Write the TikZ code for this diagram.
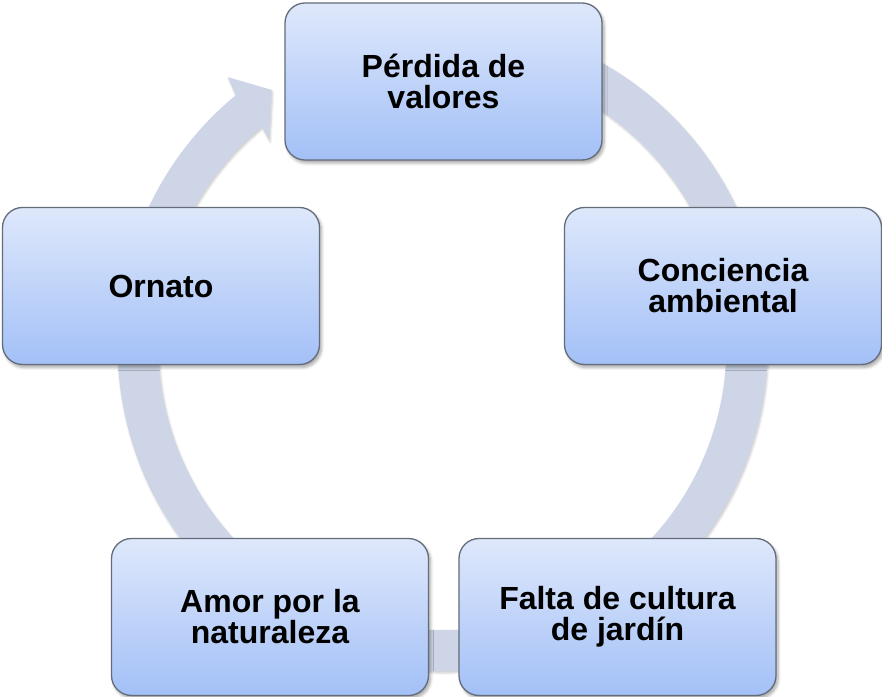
\documentclass[tikz,border=0pt]{standalone}
\usepackage{fontspec}
\setmainfont{Liberation Sans}
\usetikzlibrary{shadows.blur}
\definecolor{ringc}{RGB}{205,213,230}
\definecolor{boxtop}{RGB}{222,232,251}
\definecolor{boxbot}{RGB}{163,192,247}
\definecolor{boxline}{RGB}{100,108,122}
\tikzset{
  cyclebox/.style={draw=boxline, line width=1.3pt, rounded corners=20pt,
    top color=boxtop, bottom color=boxbot,
    minimum width=317pt, minimum height=157pt, align=center,
    font=\fontsize{32}{31}\selectfont\bfseries, text=black,
    blur shadow={shadow xshift=2pt, shadow yshift=-3pt, shadow opacity=35, shadow blur steps=6, shadow blur radius=3pt}},
  ringshape/.style={fill=ringc, draw=none,
    blur shadow={shadow xshift=1pt, shadow yshift=-2pt, shadow opacity=20, shadow blur steps=5, shadow blur radius=2pt}}
}
\begin{document}
\begin{tikzpicture}[x=1pt,y=1pt]
\useasboundingbox (0,0) rectangle (882,696);
% ring arrow
\begin{scope}[shift={(442.5,350)}]
\path[ringshape] (105:325) arc[start angle=105, end angle=-230.5, radius=325]
  -- (-231.4:344) -- (-236.3:307.8) -- (-229.9:269)
  -- (-230.5:284) arc[start angle=-230.5, end angle=105, radius=284] -- cycle;
\end{scope}
% boxes
\node[cyclebox] (perdida) at (443.5,614.5) {Pérdida de\\valores};
\node[cyclebox] (conciencia) at (723,410) {Conciencia\\ambiental};
\node[cyclebox] (falta) at (617.5,79) {Falta de cultura\\de jardín};
\node[cyclebox] (amor) at (270,79) {Amor por la\\naturaleza};
\node[cyclebox] (ornato) at (161,410) {Ornato};
\end{tikzpicture}
\end{document}
